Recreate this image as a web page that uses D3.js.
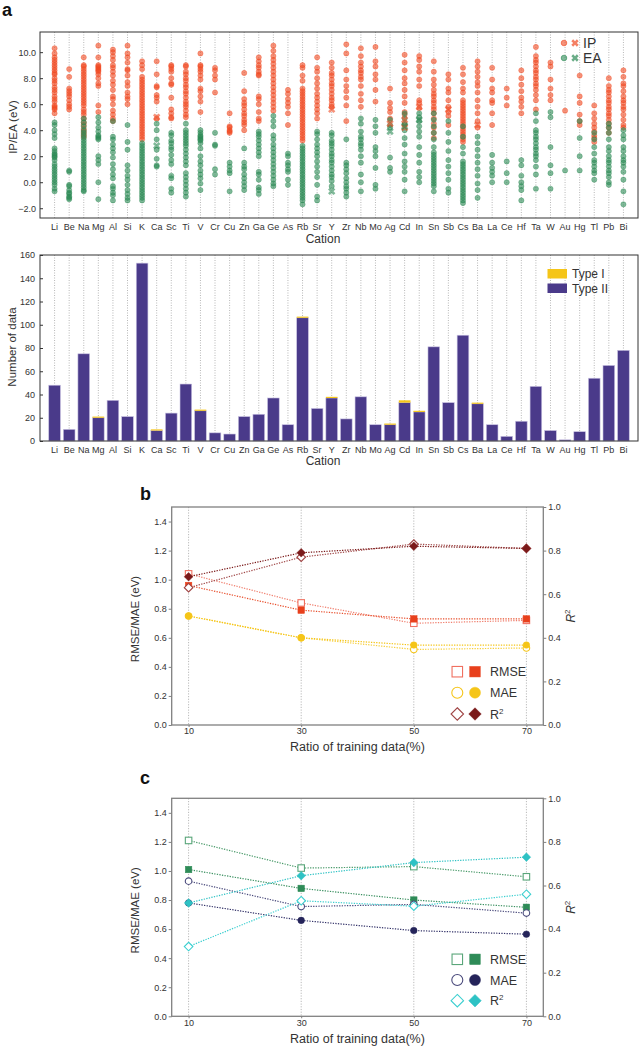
<!DOCTYPE html>
<html><head><meta charset="utf-8">
<script src="https://cdn.jsdelivr.net/npm/d3@7"></script>
<style>body{margin:0;background:#fff;} text{font-family:"Liberation Sans",Arial,sans-serif;}</style>
</head><body><svg id="c" width="640" height="1049"></svg>
<script>
// ---------------- DATA ----------------
const cations = ["Li","Be","Na","Mg","Al","Si","K","Ca","Sc","Ti","V","Cr","Cu","Zn","Ga","Ge","As","Rb","Sr","Y","Zr","Nb","Mo","Ag","Cd","In","Sn","Sb","Cs","Ba","La","Ce","Hf","Ta","W","Au","Hg","Tl","Pb","Bi"];
const ipData = [
[10.3,9.9,9.6,9.4,9.2,9.0,8.8,8.6,8.4,8.3,8.0,7.8,7.6,7.3,7.1,6.9,6.6,6.4,6.2,5.9,5.8,5.7,5.6,5.3],
[8.7,8.1,7.2,7.0,6.8,6.6,6.3,6.0,5.8,5.6],
[9.6,9.0,8.9,8.7,8.5,8.3,8.1,7.9,7.7,7.5,7.3,7.1,6.9,6.7,6.5,6.3,6.1,5.9,5.6,5.4,5.2,4.9,4.6,4.4,4.1,3.9,3.7,3.5],
[10.5,9.6,9.0,8.9,8.8,8.7,8.6,8.5,8.3,8.0,7.6,7.4,5.9,5.4],
[10.2,10.0,9.7,9.4,9.0,8.8,8.5,8.2,7.8,7.5,7.1,6.6,6.4,6.0,5.5,5.2,4.9,4.7],
[10.5,9.9,9.6,9.2,8.7,8.6,8.2,7.7,7.4,6.9,6.6,6.4,6.0],
[9.3,9.0,8.7,8.1,7.9,7.7,7.5,7.3,7.1,6.9,6.7,6.5,6.3,6.1,5.9,5.7,5.5,5.3,5.1,4.9,4.7,4.5,4.3,4.1,3.9,3.7,3.5,3.3],
[9.3,8.3,7.4,7.3,6.7,6.5,6.2,4.9],
[9.0,8.9,8.7,8.5,8.0,7.6,7.5,6.5,5.6,5.3,5.0,4.9],
[9.0,8.9,8.5,8.3,8.0,7.8,7.5,7.3,7.0,6.8,6.5,6.2,6.0,5.8,5.5,5.2,5.0],
[9.9,9.0,8.9,8.7,8.5,8.2,7.9,7.2,7.0,6.6,6.2,5.4],
[8.8,8.6,8.2,7.9,6.9],
[5.3,4.3,4.2,4.0,3.9,3.8],
[8.4,7.0,6.4,6.1,5.9,5.6,5.3,5.1,4.8,4.6,4.4,4.0],
[9.6,9.3,9.0,8.8,8.5,8.3,8.2,6.6,6.4,6.0,5.4,4.9,4.7],
[10.5,10.1,9.7,9.4,9.1,8.8,8.5,8.2,7.9,7.6,7.3,7.0,6.7,6.4,6.1,5.8,5.5],
[7.1,6.8,6.4,6.1,5.8,5.3,4.4],
[9.0,8.8,8.2,7.8,7.2,7.0,6.8,6.6,6.4,6.2,6.0,5.8,5.6,5.4,5.2,5.0,4.8,4.6,4.4,4.2,4.0,3.8,3.6,3.4,3.2],
[9.6,8.8,8.5,8.0,7.6,7.2,6.8,6.5,6.2,5.9,5.6,5.3,4.9],
[9.2,8.8,8.4,8.2,7.9,7.6,7.4,7.1,6.8,6.5,6.3,6.0,5.8],
[10.6,9.9,8.6,7.9,7.4,7.0,6.5,5.9,4.7],
[10.3,9.7,9.2,8.9,8.6,8.4,8.1,7.9,7.4,6.8,6.3,5.8],
[10.4,9.3,8.9,8.3,7.9,7.1,6.2],
[7.2,6.1,5.7,5.4,4.9],
[9.8,9.2,8.6,8.0,7.6,7.1,6.6,6.1,5.4,5.2,4.4],
[9.7,9.4,8.9,8.5,7.9,7.4,6.3,6.1,5.7],
[9.3,8.5,7.9,7.5,7.1,6.8,6.6,6.3,6.1,5.8,5.6,5.3,4.9,4.5,4.2,3.8,3.4],
[8.3,7.9,7.2,6.9,6.3,5.8,5.4,5.1,4.4],
[8.8,8.3,7.7,7.2,6.9,6.3,6.1,5.9,5.7,5.5,5.3,5.1,4.9,4.7,4.5,4.3,4.1,3.9,3.7,3.5,3.3,3.1],
[9.3,8.9,8.5,8.1,7.7,7.4,6.9,6.3,5.8,5.3,4.7,4.2],
[8.8,7.9,7.2,6.9,6.3,6.1,5.3,4.4],
[7.2,6.5,5.9],
[8.6,8.0,7.5,7.0,6.5,6.2,5.8,5.3],
[10.4,9.7,9.4,9.2,8.9,8.6,8.4,8.1,7.9,7.6,7.4,7.1,6.7,6.3,5.6],
[9.2,8.9,7.9,7.2,6.7,6.3],
[5.5],
[8.2,6.6,6.1,5.2,4.7,4.4],
[5.9,5.3,4.9,4.5,4.2,3.9,3.6,3.4,3.1],
[8.0,7.4,7.1,6.9,6.6,6.3,6.1,5.8,5.6,5.3,5.1,4.8,4.5,4.2,3.8],
[8.6,8.1,7.6,7.4,7.0,6.6,6.3,6.1,5.8,5.6,5.2,4.8,4.4,4.2]
];
const eaData = [
[4.6,4.4,4.0,3.7,3.4,2.6,2.4,2.2,2.1,2.0,1.9,1.7,1.4,1.2,1.0,0.8,0.6,0.4,0.2,0.0,-0.2,-0.5,-0.7],
[0.9,0.8,-0.2,-0.3,-0.6,-0.8,-0.9,-1.1,-1.2,-1.3],
[4.9,4.6,4.3,4.0,3.8,3.6,3.4,3.2,3.0,2.8,2.6,2.4,2.2,2.0,1.8,1.6,1.4,1.2,1.0,0.8,0.6,0.4,0.2,0.0,-0.2,-0.4,-0.6,-0.7],
[5.0,4.6,4.2,3.9,3.6,3.5,3.4,3.3,2.0,1.7,1.4,0.0,-1.3],
[4.7,3.5,3.3,2.9,2.6,2.3,1.9,1.4,1.0,0.6,0.3,-0.3,-0.5,-0.8,-1.0,-1.4],
[4.4,3.1,2.5,1.3,0.9,0.5,0.2,-0.2,-0.6,-0.9,-1.2,-1.4],
[3.0,2.8,2.6,2.4,2.2,2.0,1.8,1.6,1.4,1.2,1.0,0.8,0.6,0.4,0.2,0.0,-0.2,-0.4,-0.6,-0.8,-1.0,-1.2,-1.4],
[4.5,4.0,3.3,2.5,1.8,1.3,1.2],
[3.8,3.6,3.2,3.0,2.7,2.5,2.1,1.7,1.4,0.5,0.3,-0.5,-0.8],
[4.5,4.0,3.8,3.6,3.4,3.2,3.0,2.8,2.5,2.2,1.9,1.6,1.3,0.7,0.4,0.1,-0.2,-0.5,-0.8,-1.1],
[4.0,3.8,3.6,3.5,3.4,3.3,3.2,3.0,2.6,2.0,1.6,1.3,0.9,0.6,0.3,-0.1,-0.6],
[3.8,2.9,2.8,1.0,0.6],
[1.5,1.2,0.9,0.7,-0.7],
[2.6,1.5,1.2,1.0,0.6,0.3,0.0,-0.3,-0.6],
[3.9,3.7,3.5,3.2,2.9,2.6,2.3,2.0,0.8,0.6,0.2,-0.4,-0.6,-0.9],
[5.1,4.7,4.3,3.6,3.3,2.9,2.6,2.3,2.0,1.7,1.4,1.1,0.8,0.5,0.2,-0.1,-0.3],
[2.2,2.0,1.5,1.3,1.0,0.8,0.2,-0.2],
[2.8,2.6,2.4,2.2,2.0,1.8,1.6,1.4,1.2,1.0,0.8,0.6,0.4,0.2,0.0,-0.2,-0.4,-0.6,-0.8,-1.0,-1.2,-1.4,-1.7],
[3.9,3.7,3.3,2.9,2.6,2.3,2.0,1.6,1.2,0.8,0.4,-0.2,-1.1,-1.4],
[3.8,3.6,3.2,3.0,2.8,2.5,2.2,2.0,1.7,1.5,1.2,0.9,0.6,0.4,0.1,-0.3],
[3.3,1.5,1.3,1.0,0.7,0.3,0.0,-0.3,-0.5,-0.8,-1.1],
[4.9,4.5,3.9,3.5,3.3,3.0,2.8,2.5,2.0,1.5,0.6,0.0,-0.7],
[4.8,4.3,3.8,2.7,2.4,2.0,1.1,-0.2,-0.5],
[4.8,4.4,4.2,1.9,1.1,0.8],
[5.3,4.9,4.5,4.0,3.4,2.9,2.2,1.6,1.2,0.8,0.2,-0.7],
[5.3,5.0,4.7,4.3,3.9,3.5,2.7,2.1,1.5,0.8,0.4,0.0],
[5.3,4.8,4.3,3.8,3.3,2.7,2.3,2.1,1.9,1.7,1.5,1.3,1.1,0.9,0.7,0.5,0.3,0.1,-0.1,-0.3,-0.7],
[4.7,3.8,3.1,2.4,1.7,1.2,0.7,0.2,-0.5,-0.8],
[4.3,3.5,2.7,2.2,1.6,1.4,1.2,1.0,0.8,0.6,0.4,0.2,0.0,-0.2,-0.4,-0.6,-0.8,-1.0,-1.2,-1.4,-1.6],
[3.5,3.0,2.5,2.0,1.5,1.0,0.5,-0.1,-0.6,-1.2],
[2.1,1.5,1.1,0.8,0.5,0.0],
[1.6,0.7,0.0],
[1.7,1.3,0.5,0.0,-0.3,-0.6,-1.4],
[5.3,4.7,4.0,3.8,3.5,3.3,3.0,2.7,2.5,2.2,2.0,1.7,1.2,0.6,-0.5],
[5.4,5.0,2.7,1.3,0.7,-0.5],
[0.9],
[4.7,3.4,2.0,0.9],
[3.8,3.3,2.7,2.2,1.7,1.5,1.2,0.9,0.7,0.2],
[4.5,4.2,3.8,3.3,2.7,2.4,2.0,1.7,1.5,1.2,0.9,0.7,0.4,0.0,-0.2],
[4.0,3.6,3.3,2.7,2.4,2.0,1.7,1.5,1.2,0.8,0.2,-0.7,-1.7]
];
// Type I compounds (cross markers)
const ipCrossCation = ["Ca","Y","Ag","Cd","Cd","In","Ba","Sb"];
const ipCrossValue  = [5.0, 5.6, 4.5, 4.8, 4.2, 5.8, 4.4, 5.6];
const eaCrossCation = ["Ca","Y","Ag","Cd","In"];
const eaCrossValue  = [2.8, -0.7, 3.9, 4.3, 4.8];

// Bar counts
const typeII = [48,10,75,20,35,21,153,9,24,49,26,7,6,21,23,37,14,106,28,37,19,38,14,14,33,25,81,33,91,32,14,4,17,47,9,1,8,54,65,78];
const typeI  = [0,0,0,1,0,0,0,1,0,0,1,0,0,0,0,0,0,1,0,1,0,0,0,1,2,1,0,0,0,1,0,0,0,0,0,0,0,0,0,0];
const yTicksA = [-2,0,2,4,6,8,10];
const yTicksBar = [0,20,40,60,80,100,120,140,160];

// Panels b, c
const ratios = [10,30,50,70];
const bRmseOpen   = [1.04,0.84,0.70,0.72];
const bRmseFilled = [0.96,0.79,0.73,0.73];
const bMaeOpen    = [0.75,0.60,0.52,0.53];
const bMaeFilled  = [0.75,0.60,0.55,0.55];
const bR2Open     = [0.63,0.77,0.83,0.81];
const bR2Filled   = [0.68,0.79,0.82,0.81];
const cRmseOpen   = [1.21,1.02,1.03,0.96];
const cRmseFilled = [1.01,0.88,0.80,0.75];
const cMaeOpen    = [0.93,0.755,0.77,0.71];
const cMaeFilled  = [0.78,0.66,0.59,0.565];
const cR2Open     = [0.32,0.53,0.505,0.56];
const cR2Filled   = [0.52,0.645,0.705,0.73];
const leftTicks = [0,0.2,0.4,0.6,0.8,1.0,1.2,1.4];
const rightTicks = [0,0.2,0.4,0.6,0.8,1.0];

// ---------------- DRAW ----------------
const svg = d3.select("#c");
const txt = "#333";

// ===== Panel a: scatter =====
const A = {l:40, r:638, t:32, b:218};
const xA = d3.scalePoint().domain(cations).range([A.l, A.r]).padding(1);
const yA = d3.scaleLinear().domain([-2.75, 11.55]).range([A.b, A.t]);
const gA = svg.append("g");
gA.selectAll("line.g").data(cations).join("line")
  .attr("x1", d=>xA(d)).attr("x2", d=>xA(d)).attr("y1", A.t).attr("y2", A.b)
  .attr("stroke", "#9a9a9a").attr("stroke-width", 0.7).attr("stroke-dasharray", "1,1.5");

const ipCol = "#f04a22", eaCol = "#2c8a55";
const ipPts = [], eaPts = [];
cations.forEach((c,i)=>{ ipData[i].forEach(v=>ipPts.push({c,v})); eaData[i].forEach(v=>eaPts.push({c,v})); });
function dots(g, pts, col){
  g.selectAll(null).data(pts).join("circle")
   .attr("cx", d=>xA(d.c)).attr("cy", d=>yA(d.v)).attr("r", 2.6)
   .attr("fill", col).attr("fill-opacity", 0.6)
   .attr("stroke", col).attr("stroke-opacity", 0.6).attr("stroke-width", 0.6);
}
dots(gA, ipPts, ipCol);
dots(gA, eaPts, eaCol);
const crossPath = d3.symbol().type(d3.symbolCross).size(34)();
function crosses(g, cs, vs, col){
  g.selectAll(null).data(cs.map((c,i)=>({c, v:vs[i]}))).join("path")
   .attr("d", crossPath)
   .attr("transform", d=>`translate(${xA(d.c)},${yA(d.v)}) rotate(45)`)
   .attr("fill", col).attr("fill-opacity", 0.6);
}
crosses(gA, ipCrossCation, ipCrossValue, ipCol);
crosses(gA, eaCrossCation, eaCrossValue, eaCol);

gA.append("rect").attr("x", A.l).attr("y", A.t).attr("width", A.r-A.l).attr("height", A.b-A.t)
  .attr("fill", "none").attr("stroke", "#333").attr("stroke-width", 1);
const axA = gA.append("g").attr("transform", `translate(${A.l},0)`)
  .call(d3.axisLeft(yA).tickValues(yTicksA).tickFormat(d3.format(".1f")).tickSizeInner(-3).tickSizeOuter(0).tickPadding(4));
axA.select(".domain").remove();
axA.selectAll("line").attr("stroke", "#333");
axA.selectAll("text").attr("font-size", 9).attr("fill", txt).attr("font-family", "Liberation Sans, Arial");
gA.selectAll("text.cl").data(cations).join("text")
  .attr("x", d=>xA(d)).attr("y", 230).attr("text-anchor", "middle")
  .attr("font-size", 9).attr("fill", txt).text(d=>d);
gA.append("text").attr("x", 323).attr("y", 242.5).attr("text-anchor", "middle").attr("font-size", 12).attr("fill", txt).text("Cation");
gA.append("text").attr("transform", "translate(17,127) rotate(-90)").attr("text-anchor", "middle").attr("font-size", 11.5).attr("fill", txt).text("IP/EA (eV)");
svg.append("text").attr("x", 2).attr("y", 16).attr("font-size", 18).attr("font-weight", "bold").attr("fill", "#111").text("a");
// legend a
[["IP", ipCol, 43], ["EA", eaCol, 58]].forEach(([lab, col, y])=>{
  gA.append("circle").attr("cx", 564).attr("cy", y).attr("r", 2.8).attr("fill", col).attr("fill-opacity", 0.6).attr("stroke", col).attr("stroke-opacity", 0.6);
  gA.append("path").attr("d", crossPath).attr("transform", `translate(575,${y}) rotate(45)`).attr("fill", col).attr("fill-opacity", 0.7);
  gA.append("text").attr("x", 583).attr("y", y+5).attr("font-size", 14).attr("fill", txt).text(lab);
});

// ===== Panel a: bars =====
const B = {l:40, r:638, t:255, b:441};
const xB = d3.scaleBand().domain(cations).range([B.l, B.r]).paddingInner(0.2).paddingOuter(0.6);
const yB = d3.scaleLinear().domain([0, 160]).range([B.b, B.t]);
const gB = svg.append("g");
gB.selectAll("line.g").data(cations).join("line")
  .attr("x1", d=>xA(d)).attr("x2", d=>xA(d)).attr("y1", B.t).attr("y2", B.b)
  .attr("stroke", "#9a9a9a").attr("stroke-width", 0.7).attr("stroke-dasharray", "1,1.5");
const purple = "#4a3a8a", yellow = "#f5c518";
const stackRows = cations.map((c,i)=>({c, II:typeII[i], I:typeI[i]}));
const stacked = d3.stack().keys(["II","I"])(stackRows);
stacked.forEach(layer=>{
  gB.selectAll(null).data(layer.filter(d=>d[1]>d[0])).join("rect")
   .attr("x", d=>xB(d.data.c)).attr("width", xB.bandwidth())
   .attr("y", d=>yB(d[1])).attr("height", d=>yB(d[0])-yB(d[1]))
   .attr("fill", layer.key==="II" ? purple : yellow)
   .attr("stroke", layer.key==="II" ? "#c9c2e2" : "none").attr("stroke-width", 0.6);
});
gB.append("rect").attr("x", B.l).attr("y", B.t).attr("width", B.r-B.l).attr("height", B.b-B.t)
  .attr("fill", "none").attr("stroke", "#333").attr("stroke-width", 1);
const axB = gB.append("g").attr("transform", `translate(${B.l},0)`)
  .call(d3.axisLeft(yB).tickValues(yTicksBar).tickSizeInner(-3).tickSizeOuter(0).tickPadding(5));
axB.select(".domain").remove();
axB.selectAll("line").attr("stroke", "#333");
axB.selectAll("text").attr("font-size", 9).attr("fill", txt);
gB.selectAll("text.cl").data(cations).join("text")
  .attr("x", d=>xA(d)).attr("y", 452.5).attr("text-anchor", "middle")
  .attr("font-size", 9).attr("fill", txt).text(d=>d);
gB.append("text").attr("x", 323).attr("y", 465).attr("text-anchor", "middle").attr("font-size", 12).attr("fill", txt).text("Cation");
gB.append("text").attr("transform", "translate(16,347) rotate(-90)").attr("text-anchor", "middle").attr("font-size", 11.5).attr("fill", txt).text("Number of data");
[["Type I", yellow, 269], ["Type II", purple, 283.5]].forEach(([lab, col, y])=>{
  gB.append("rect").attr("x", 547.5).attr("y", y).attr("width", 19.5).attr("height", 9.5).attr("fill", col);
  gB.append("text").attr("x", 572).attr("y", y+9).attr("font-size", 12).attr("fill", txt).text(lab);
});

// ===== Panels b & c =====
const diamond = r => `M0,${-r}L${r},0L0,${r}L${-r},0Z`;
function drawPanel(cfg){
  const {t, b, label, labelY, tickY, titleY, series, legY} = cfg;
  const l = 171.7, r = 543.3;
  const x = d3.scaleLinear().domain([7, 73]).range([l, r]);
  const yL = d3.scaleLinear().domain([0, 1.5]).range([b, t]);
  const yR = d3.scaleLinear().domain([0, 1]).range([b, t]);
  const g = svg.append("g");
  g.selectAll("line.g").data(ratios).join("line")
    .attr("x1", d=>x(d)).attr("x2", d=>x(d)).attr("y1", t).attr("y2", b)
    .attr("stroke", "#a8a8a8").attr("stroke-width", 0.8).attr("stroke-dasharray", "1.2,1.5");
  g.append("rect").attr("x", l).attr("y", t).attr("width", r-l).attr("height", b-t)
    .attr("fill", "none").attr("stroke", "#808080").attr("stroke-width", 1.3);
  const axL = g.append("g").attr("transform", `translate(${l},0)`)
    .call(d3.axisLeft(yL).tickValues(leftTicks).tickFormat(d3.format(".1f")).tickSizeInner(3).tickSizeOuter(0).tickPadding(2));
  const axR = g.append("g").attr("transform", `translate(${r},0)`)
    .call(d3.axisRight(yR).tickValues(rightTicks).tickFormat(d3.format(".1f")).tickSizeInner(3).tickSizeOuter(0).tickPadding(2));
  const axX = g.append("g").attr("transform", `translate(0,${b})`)
    .call(d3.axisBottom(x).tickValues(ratios).tickSizeInner(2).tickSizeOuter(0).tickPadding(1));
  [axL, axR, axX].forEach(a=>{
    a.select(".domain").remove();
    a.selectAll("line").attr("stroke", "#808080");
    a.selectAll("text").attr("font-size", 9).attr("fill", txt);
  });
  axX.selectAll("text").attr("dy", null).attr("y", tickY - b);
  g.append("text").attr("x", 357.5).attr("y", titleY).attr("text-anchor", "middle").attr("font-size", 12.5).attr("fill", txt).text("Ratio of training data(%)");
  g.append("text").attr("transform", `translate(139,${(t+b)/2+3}) rotate(-90)`).attr("text-anchor", "middle").attr("font-size", 11.5).attr("fill", txt).text("RMSE/MAE (eV)");
  const rt = g.append("text").attr("transform", `translate(575,${(t+b)/2}) rotate(-90)`).attr("text-anchor", "middle").attr("font-size", 12).attr("fill", txt);
  rt.append("tspan").attr("font-style", "italic").text("R");
  rt.append("tspan").attr("font-size", 8).attr("dy", -5).text("2");
  svg.append("text").attr("x", 140).attr("y", labelY).attr("font-size", 18).attr("font-weight", "bold").attr("fill", "#111").text(label);

  const line = (vals, sc) => d3.line().x((d,i)=>x(ratios[i])).y(d=>sc(d))(vals);
  series.forEach(s=>{
    const sc = s.right ? yR : yL;
    g.append("path").attr("d", line(s.vals, sc)).attr("fill", "none")
      .attr("stroke", s.lineCol).attr("stroke-width", 1.2).attr("stroke-dasharray", "1.3,1.3");
  });
  function marker(sel, shape, open, col, size){
    if (shape==="sq") sel.append("rect").attr("x", -size/2).attr("y", -size/2).attr("width", size).attr("height", size);
    else if (shape==="ci") sel.append("circle").attr("r", size/2);
    else sel.append("path").attr("d", diamond(size/2));
    sel.select(":last-child").attr("fill", open ? "#fff" : col).attr("stroke", col).attr("stroke-width", open ? 1.1 : 0.5);
  }
  series.forEach(s=>{
    const sc = s.right ? yR : yL;
    s.vals.forEach((v,i)=>{
      const m = g.append("g").attr("transform", `translate(${x(ratios[i])},${sc(v)})`);
      marker(m, s.shape, s.open, s.col, s.shape==="sq" ? 6.5 : s.shape==="ci" ? 6.6 : 8.6);
    });
  });
  // legend
  const legRows = cfg.legend;
  legRows.forEach((row, k)=>{
    const y = legY[k];
    const m1 = g.append("g").attr("transform", `translate(457.3,${y})`);
    marker(m1, row.shape, true, row.openCol, row.shape==="sq" ? 10.5 : row.shape==="ci" ? 11 : 12.5);
    const m2 = g.append("g").attr("transform", `translate(475,${y})`);
    marker(m2, row.shape, false, row.col, row.shape==="sq" ? 10.5 : row.shape==="ci" ? 11 : 12.5);
    const tx = g.append("text").attr("x", 490).attr("y", y+4.5).attr("font-size", 12.5).attr("fill", txt).text(row.label);
    if (row.sup) tx.append("tspan").attr("font-size", 8).attr("dy", -5).text(row.sup);
  });
}

const redO = "#f07060", redF = "#e8401c", yel = "#f5c518", dred = "#7b1a1a", dredO = "#a04545";
drawPanel({t:507, b:725, label:"b", labelY:500, tickY:733.5, titleY:751,
  legY:[671.7, 692.7, 714],
  series:[
    {vals:bRmseOpen, shape:"sq", open:true, col:redO, lineCol:"#f08070"},
    {vals:bRmseFilled, shape:"sq", open:false, col:redF, lineCol:"#e8502e"},
    {vals:bMaeOpen, shape:"ci", open:true, col:yel, lineCol:"#f7cf3c"},
    {vals:bMaeFilled, shape:"ci", open:false, col:yel, lineCol:"#f5c518"},
    {vals:bR2Open, shape:"di", open:true, col:dredO, lineCol:"#a04848", right:true},
    {vals:bR2Filled, shape:"di", open:false, col:dred, lineCol:"#7b1a1a", right:true}
  ],
  legend:[
    {shape:"sq", openCol:redO, col:redF, label:"RMSE"},
    {shape:"ci", openCol:yel, col:yel, label:"MAE"},
    {shape:"di", openCol:dredO, col:dred, label:"R", sup:"2"}
  ]});

const grO = "#5aa67a", grF = "#2e8b57", navO = "#4a4a7c", navF = "#25245a", cyO = "#3ccfd0", cyF = "#2ec2c4";
drawPanel({t:798.3, b:1016.3, label:"c", labelY:784, tickY:1026, titleY:1042.5,
  legY:[959.3, 980, 1000.7],
  series:[
    {vals:cRmseOpen, shape:"sq", open:true, col:grO, lineCol:"#4a9a6a"},
    {vals:cRmseFilled, shape:"sq", open:false, col:grF, lineCol:"#3a9060"},
    {vals:cMaeOpen, shape:"ci", open:true, col:navO, lineCol:"#4a4a7c"},
    {vals:cMaeFilled, shape:"ci", open:false, col:navF, lineCol:"#35346a"},
    {vals:cR2Open, shape:"di", open:true, col:cyO, lineCol:"#3ccfd0", right:true},
    {vals:cR2Filled, shape:"di", open:false, col:cyF, lineCol:"#2ec2c4", right:true}
  ],
  legend:[
    {shape:"sq", openCol:grO, col:grF, label:"RMSE"},
    {shape:"ci", openCol:navO, col:navF, label:"MAE"},
    {shape:"di", openCol:cyO, col:cyF, label:"R", sup:"2"}
  ]});
</script></body></html>
